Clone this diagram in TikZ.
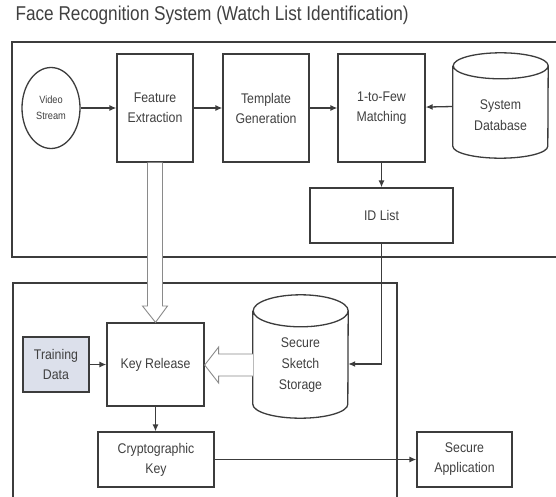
\documentclass[tikz,border=0pt]{standalone}
\usepackage{fontspec}
\setmainfont{Liberation Sans}[FakeStretch=0.88]
\newfontfamily\titlefont{Liberation Sans}[FakeStretch=0.86]
\usetikzlibrary{shapes.geometric,arrows.meta,calc}
\definecolor{linegray}{HTML}{3C3C3C}
\definecolor{textgray}{HTML}{404040}
\definecolor{hollowgray}{HTML}{8A8A8A}
\definecolor{trainfill}{HTML}{DCE0EB}
\tikzset{
  block/.style={draw=linegray, line width=1.3pt, rectangle, align=center, text=textgray,
    font=\fontsize{14}{20}\selectfont, inner sep=0pt},
  dbase/.style={rectangle, inner sep=0pt},
  dblabel/.style={align=center, text=textgray, font=\fontsize{14}{21}\selectfont, inner sep=0pt},
  dbline/.style={draw=linegray, line width=1.3pt},
  link/.style={draw=linegray, line width=1.3pt, -{Latex[length=7pt,width=6pt]}},
  hollow/.style={draw=hollowgray, line width=0.9pt, fill=white},
  frame/.style={draw=linegray, line width=1.5pt},
}
\begin{document}
\begin{tikzpicture}[x=1pt,y=-1pt]
    \useasboundingbox[fill=white] (0,0) rectangle (556,497);

    \node[anchor=west, text=textgray, font=\titlefont\fontsize{20}{22}\selectfont] (title) at (12,15)
        {Face Recognition System (Watch List Identification)};

    % frames
    \draw[frame] (556,42) -- (12,42) -- (12,257) -- (556,257);
    \draw[frame] (13,497) -- (13,283) -- (397,283) -- (397,497);

    \node[draw=linegray, line width=1.3pt, ellipse, minimum width=58, minimum height=81, inner sep=0pt,
        align=center, text=textgray, font=\fontsize{10.5}{16}\selectfont] (video) at (51,108) {Video\\Stream};
    \node[block, minimum width=76, minimum height=108] (feat) at (155,108) {Feature\\Extraction};
    \node[block, minimum width=86, minimum height=108] (templ) at (266,108) {Template\\Generation};
    \node[block, minimum width=87, minimum height=108] (match) at (381.5,108) {1-to-Few\\Matching};
    \node[dbase, minimum width=95, minimum height=105,
        label={[dblabel, yshift=-10pt]center:System\\Database}] (sysdb) at (500.5,105.5) {};
    \node[block, minimum width=143, minimum height=55] (idlist) at (381.5,215.5) {ID List};

    \node[block, fill=trainfill, minimum width=66, minimum height=55] (train) at (56,364.5) {Training\\Data};
    \node[block, minimum width=97, minimum height=83] (keyrel) at (155.5,364.5) {Key Release};
    \node[dbase, minimum width=95, minimum height=123,
        label={[dblabel, yshift=-9pt]center:Secure\\Sketch\\Storage}] (sss) at (300.5,356.5) {};
    \node[block, minimum width=116, minimum height=55] (crypto) at (156,459.5) {Cryptographic\\Key};
    \node[block, minimum width=95, minimum height=55] (secapp) at (464.5,459.5) {Secure\\Application};

    % cylinders
    \draw[dbline] ($(sysdb.north west)+(0,13)$) -- ($(sysdb.south west)+(0,-12)$)
        arc[start angle=180, end angle=360, x radius=47.5pt, y radius=12pt]
        -- ($(sysdb.north east)+(0,13)$)
        arc[start angle=0, end angle=360, x radius=47.5pt, y radius=13pt];
    \draw[dbline] ($(sss.north west)+(0,16)$) -- ($(sss.south west)+(0,-14)$)
        arc[start angle=180, end angle=360, x radius=47.5pt, y radius=14pt]
        -- ($(sss.north east)+(0,16)$)
        arc[start angle=0, end angle=360, x radius=47.5pt, y radius=16pt];

    \draw[link] (video) -- (feat);
    \draw[link] (feat) -- (templ);
    \draw[link] (templ) -- (match);
    \draw[link] (sysdb) -- (match);
    \draw[link] (match) -- (idlist);
    \draw[link] (idlist.south) |- ($(sss.east)+(0,7.5)$);
    \draw[link] (train) -- (keyrel);
    \draw[link] (keyrel.south) -- (crypto.north -| keyrel.south);
    \draw[link] (crypto) -- (secapp);

    % hollow arrows
    \draw[hollow] ($(feat.south)+(-7.5,0)$) -- ($(feat.south |- 0,306)+(-7.5,0)$)
        -- ($(feat.south |- 0,306)+(-12.5,0)$) -- (keyrel.north)
        -- ($(feat.south |- 0,306)+(12.5,0)$) -- ($(feat.south |- 0,306)+(7.5,0)$)
        -- ($(feat.south)+(7.5,0)$);
    \draw[hollow] (sss.west |- 0,354) -- ($(keyrel.east |- 0,354)+(14,0)$)
        -- ($(keyrel.east |- 0,347)+(14,0)$) -- (keyrel.east |- 0,365)
        -- ($(keyrel.east |- 0,383)+(14,0)$) -- ($(keyrel.east |- 0,376)+(14,0)$)
        -- (sss.west |- 0,376);
\end{tikzpicture}
\end{document}
